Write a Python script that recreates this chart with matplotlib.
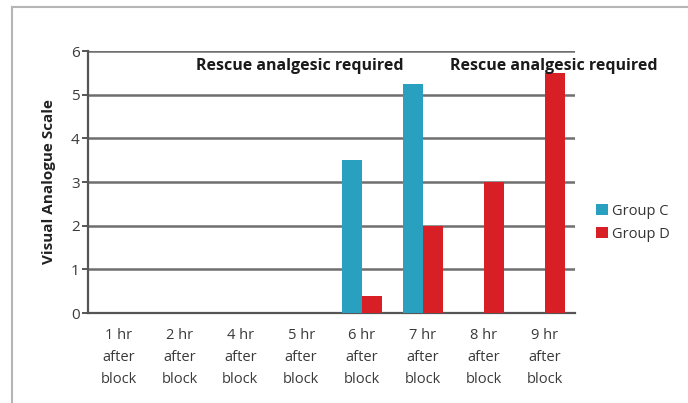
import numpy as np
import matplotlib.pyplot as plt
from matplotlib.lines import Line2D

categories = ['1 hr\nafter\nblock', '2 hr\nafter\nblock', '4 hr\nafter\nblock',
              '5 hr\nafter\nblock', '6 hr\nafter\nblock', '7 hr\nafter\nblock',
              '8 hr\nafter\nblock', '9 hr\nafter\nblock']
group_c = [0, 0, 0, 0, 3.5, 5.25, 0, 0]
group_d = [0, 0, 0, 0, 0.4, 2.0, 3.0, 5.5]

plt.rcParams['font.family'] = ['Open Sans', 'DejaVu Sans']

fig = plt.figure(figsize=(6.88, 4.03), dpi=100)
ax = fig.add_axes([0.128, 0.2233, 0.708, 0.650])

x = np.arange(len(categories))
w = 0.33
ax.bar(x - w / 2, group_c, width=w, color='#2aa0c0', label='Group C', zorder=3)
ax.bar(x + w / 2, group_d, width=w, color='#d91f26', label='Group D', zorder=3)

ax.set_xlim(-0.5, len(categories) - 0.5)
ax.set_ylim(0, 6)
ax.set_yticks(range(7))
ax.yaxis.grid(True, color='#6e6e6e', linewidth=1.8, zorder=0)
ax.set_xticks(x)
ax.set_xticklabels(categories, fontsize=10.5, color='#3a3a3a', linespacing=1.62)
ax.tick_params(axis='x', length=0, pad=11)
ax.tick_params(axis='y', labelsize=11, colors='#3a3a3a', length=4, width=1.2, pad=2)

for side in ['top', 'right']:
    ax.spines[side].set_visible(False)
for side in ['left', 'bottom']:
    ax.spines[side].set_color('#555555')
    ax.spines[side].set_linewidth(1.6)

ax.set_ylabel('Visual Analogue Scale', fontsize=11, fontweight='bold', color='#222222', labelpad=11)

ax.text(2.98, 5.65, 'Rescue analgesic required', ha='center', va='center',
        fontsize=11.5, fontweight='bold', color='#1a1a1a', zorder=4)
ax.text(7.15, 5.65, 'Rescue analgesic required', ha='center', va='center',
        fontsize=11.5, fontweight='bold', color='#1a1a1a', zorder=4, clip_on=False)

ax.legend(loc='center left', bbox_to_anchor=(1.015, 0.345), frameon=False,
          fontsize=10.5, handlelength=0.85, handleheight=0.85, handletextpad=0.25,
          labelspacing=0.55, labelcolor='#333333')

# outer frame lines
fig.add_artist(Line2D([12 / 688, 12 / 688], [0, 1 - 7 / 403], color='#b5b5b5', linewidth=1.5))
fig.add_artist(Line2D([12 / 688, 1], [1 - 7 / 403, 1 - 7 / 403], color='#b5b5b5', linewidth=1.5))

fig.savefig('out.png', dpi=100)
